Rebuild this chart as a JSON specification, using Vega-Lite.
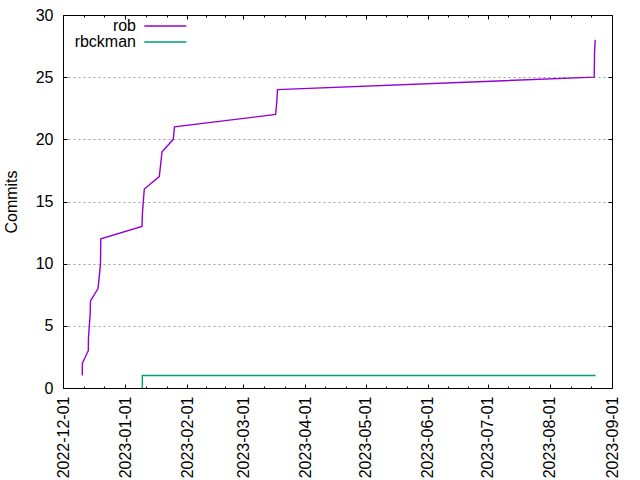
{
  "$schema": "https://vega.github.io/schema/vega-lite/v6.json",
  "width": 549,
  "height": 373,
  "autosize": {"type": "none"},
  "padding": {"left": 63, "top": 15, "right": 28, "bottom": 92},
  "background": "white",
  "config": {
    "view": {"stroke": "black", "strokeWidth": 1},
    "font": "Liberation Sans",
    "axis": {"labelFont": "Liberation Sans", "labelColor": "black", "tickColor": "black", "titleFont": "Liberation Sans", "titleColor": "black"}
  },
  "data": {
    "values": [
      {"author": "rob", "date": "2022-12-10T15:00", "commits": 1},
      {"author": "rob", "date": "2022-12-10T16:00", "commits": 2},
      {"author": "rob", "date": "2022-12-13T15:00", "commits": 3},
      {"author": "rob", "date": "2022-12-13T17:00", "commits": 4},
      {"author": "rob", "date": "2022-12-14T03:00", "commits": 5},
      {"author": "rob", "date": "2022-12-14T14:00", "commits": 6},
      {"author": "rob", "date": "2022-12-14T17:00", "commits": 7},
      {"author": "rob", "date": "2022-12-18T11:00", "commits": 8},
      {"author": "rob", "date": "2022-12-19T03:00", "commits": 9},
      {"author": "rob", "date": "2022-12-19T17:00", "commits": 10},
      {"author": "rob", "date": "2022-12-19T19:00", "commits": 11},
      {"author": "rob", "date": "2022-12-19T21:00", "commits": 12},
      {"author": "rob", "date": "2023-01-09T10:00", "commits": 13},
      {"author": "rob", "date": "2023-01-09T15:00", "commits": 14},
      {"author": "rob", "date": "2023-01-10T02:00", "commits": 15},
      {"author": "rob", "date": "2023-01-10T14:00", "commits": 16},
      {"author": "rob", "date": "2023-01-18T01:00", "commits": 17},
      {"author": "rob", "date": "2023-01-18T18:00", "commits": 18},
      {"author": "rob", "date": "2023-01-19T10:00", "commits": 19},
      {"author": "rob", "date": "2023-01-25T01:00", "commits": 20},
      {"author": "rob", "date": "2023-01-25T15:00", "commits": 21},
      {"author": "rob", "date": "2023-03-17T03:00", "commits": 22},
      {"author": "rob", "date": "2023-03-17T17:00", "commits": 23},
      {"author": "rob", "date": "2023-03-18T01:00", "commits": 24},
      {"author": "rob", "date": "2023-08-23T03:00", "commits": 25},
      {"author": "rob", "date": "2023-08-23T05:00", "commits": 26},
      {"author": "rob", "date": "2023-08-23T07:00", "commits": 27},
      {"author": "rob", "date": "2023-08-23T15:00", "commits": 28},
      {"author": "rbckman", "date": "2023-01-09T14:00", "commits": 0},
      {"author": "rbckman", "date": "2023-01-09T14:10", "commits": 1},
      {"author": "rbckman", "date": "2023-08-23T19:00", "commits": 1}
    ]
  },
  "layer": [
    {
      "mark": {"type": "line", "strokeWidth": 1.4, "interpolate": "linear"},
      "encoding": {
        "x": {
          "field": "date", "type": "temporal",
          "scale": {"domain": [{"year": 2022, "month": 12, "date": 1}, {"year": 2023, "month": 9, "date": 1}], "nice": false},
          "axis": {
            "orient": "bottom", "title": null, "format": "%Y-%m-%d", "labelAngle": -90,
            "labelFontSize": 16, "tickSize": -4, "labelPadding": 12, "domain": false, "grid": false,
            "values": [
              {"year": 2022, "month": 12, "date": 1}, {"year": 2023, "month": 1, "date": 1},
              {"year": 2023, "month": 2, "date": 1}, {"year": 2023, "month": 3, "date": 1},
              {"year": 2023, "month": 4, "date": 1}, {"year": 2023, "month": 5, "date": 1},
              {"year": 2023, "month": 6, "date": 1}, {"year": 2023, "month": 7, "date": 1},
              {"year": 2023, "month": 8, "date": 1}, {"year": 2023, "month": 9, "date": 1}
            ],
            "labelOverlap": false, "labelFlush": false
          }
        },
        "y": {
          "field": "commits", "type": "quantitative",
          "scale": {"domain": [0, 30], "nice": false},
          "axis": {
            "title": "Commits", "titleFontSize": 16, "titleFontWeight": "normal", "titlePadding": 16,
            "labelFontSize": 16, "tickSize": -4, "labelPadding": 14, "domain": false,
            "values": [0, 5, 10, 15, 20, 25, 30],
            "grid": true, "gridDash": [2, 3], "gridColor": "#a0a0a0", "gridWidth": 1,
            "gridOpacity": {"condition": {"test": "datum.value === 0 || datum.value === 30", "value": 0}, "value": 1},
            "labelOverlap": false, "labelFlush": false
          }
        },
        "color": {
          "field": "author", "type": "nominal",
          "scale": {"domain": ["rob", "rbckman"], "range": ["#9400d3", "#009e73"]},
          "legend": {
            "title": null, "orient": "none", "legendX": 10, "legendY": 3,
            "symbolType": "M-3,0H3", "symbolSize": 196, "symbolStrokeWidth": 1.4,
            "labelAlign": "right", "labelOffset": -37.3, "symbolOffset": 84.3,
            "padding": 0, "rowPadding": 0,
            "labelFontSize": 16, "labelFont": "Liberation Sans", "labelColor": "black", "labelLimit": 200
          }
        }
      }
    },
    {
      "mark": {"type": "point", "opacity": 0},
      "encoding": {
        "x": {
          "field": "date", "type": "temporal",
          "axis": {
            "orient": "top", "title": null, "labels": false, "tickSize": -4, "domain": false, "grid": false,
            "values": [
              {"year": 2022, "month": 12, "date": 1}, {"year": 2023, "month": 1, "date": 1},
              {"year": 2023, "month": 2, "date": 1}, {"year": 2023, "month": 3, "date": 1},
              {"year": 2023, "month": 4, "date": 1}, {"year": 2023, "month": 5, "date": 1},
              {"year": 2023, "month": 6, "date": 1}, {"year": 2023, "month": 7, "date": 1},
              {"year": 2023, "month": 8, "date": 1}, {"year": 2023, "month": 9, "date": 1}
            ]
          }
        },
        "y": {
          "field": "commits", "type": "quantitative",
          "axis": {"orient": "right", "title": null, "labels": false, "tickSize": -4, "domain": false, "grid": false, "values": [0, 5, 10, 15, 20, 25, 30]}
        }
      }
    },
    {
      "mark": {"type": "point", "opacity": 0},
      "encoding": {
        "x": {
          "field": "date", "type": "temporal",
          "axis": {
            "orient": "bottom", "title": null, "labels": false, "tickSize": -2, "domain": false, "grid": false,
            "values": [
              {"year": 2022, "month": 12, "date": 11, "hours": 8}, {"year": 2022, "month": 12, "date": 21, "hours": 16},
              {"year": 2023, "month": 1, "date": 11, "hours": 8}, {"year": 2023, "month": 1, "date": 21, "hours": 16},
              {"year": 2023, "month": 2, "date": 10, "hours": 8}, {"year": 2023, "month": 2, "date": 19, "hours": 16},
              {"year": 2023, "month": 3, "date": 11, "hours": 8}, {"year": 2023, "month": 3, "date": 21, "hours": 16},
              {"year": 2023, "month": 4, "date": 11}, {"year": 2023, "month": 4, "date": 21},
              {"year": 2023, "month": 5, "date": 11, "hours": 8}, {"year": 2023, "month": 5, "date": 21, "hours": 16},
              {"year": 2023, "month": 6, "date": 11}, {"year": 2023, "month": 6, "date": 21},
              {"year": 2023, "month": 7, "date": 11, "hours": 8}, {"year": 2023, "month": 7, "date": 21, "hours": 16},
              {"year": 2023, "month": 8, "date": 11, "hours": 8}, {"year": 2023, "month": 8, "date": 21, "hours": 16}
            ]
          }
        }
      }
    },
    {
      "mark": {"type": "point", "opacity": 0},
      "encoding": {
        "x": {
          "field": "date", "type": "temporal",
          "axis": {
            "orient": "top", "title": null, "labels": false, "tickSize": -2, "domain": false, "grid": false,
            "values": [
              {"year": 2022, "month": 12, "date": 11, "hours": 8}, {"year": 2022, "month": 12, "date": 21, "hours": 16},
              {"year": 2023, "month": 1, "date": 11, "hours": 8}, {"year": 2023, "month": 1, "date": 21, "hours": 16},
              {"year": 2023, "month": 2, "date": 10, "hours": 8}, {"year": 2023, "month": 2, "date": 19, "hours": 16},
              {"year": 2023, "month": 3, "date": 11, "hours": 8}, {"year": 2023, "month": 3, "date": 21, "hours": 16},
              {"year": 2023, "month": 4, "date": 11}, {"year": 2023, "month": 4, "date": 21},
              {"year": 2023, "month": 5, "date": 11, "hours": 8}, {"year": 2023, "month": 5, "date": 21, "hours": 16},
              {"year": 2023, "month": 6, "date": 11}, {"year": 2023, "month": 6, "date": 21},
              {"year": 2023, "month": 7, "date": 11, "hours": 8}, {"year": 2023, "month": 7, "date": 21, "hours": 16},
              {"year": 2023, "month": 8, "date": 11, "hours": 8}, {"year": 2023, "month": 8, "date": 21, "hours": 16}
            ]
          }
        }
      }
    }
  ],
  "resolve": {"axis": {"x": "independent", "y": "independent"}}
}
